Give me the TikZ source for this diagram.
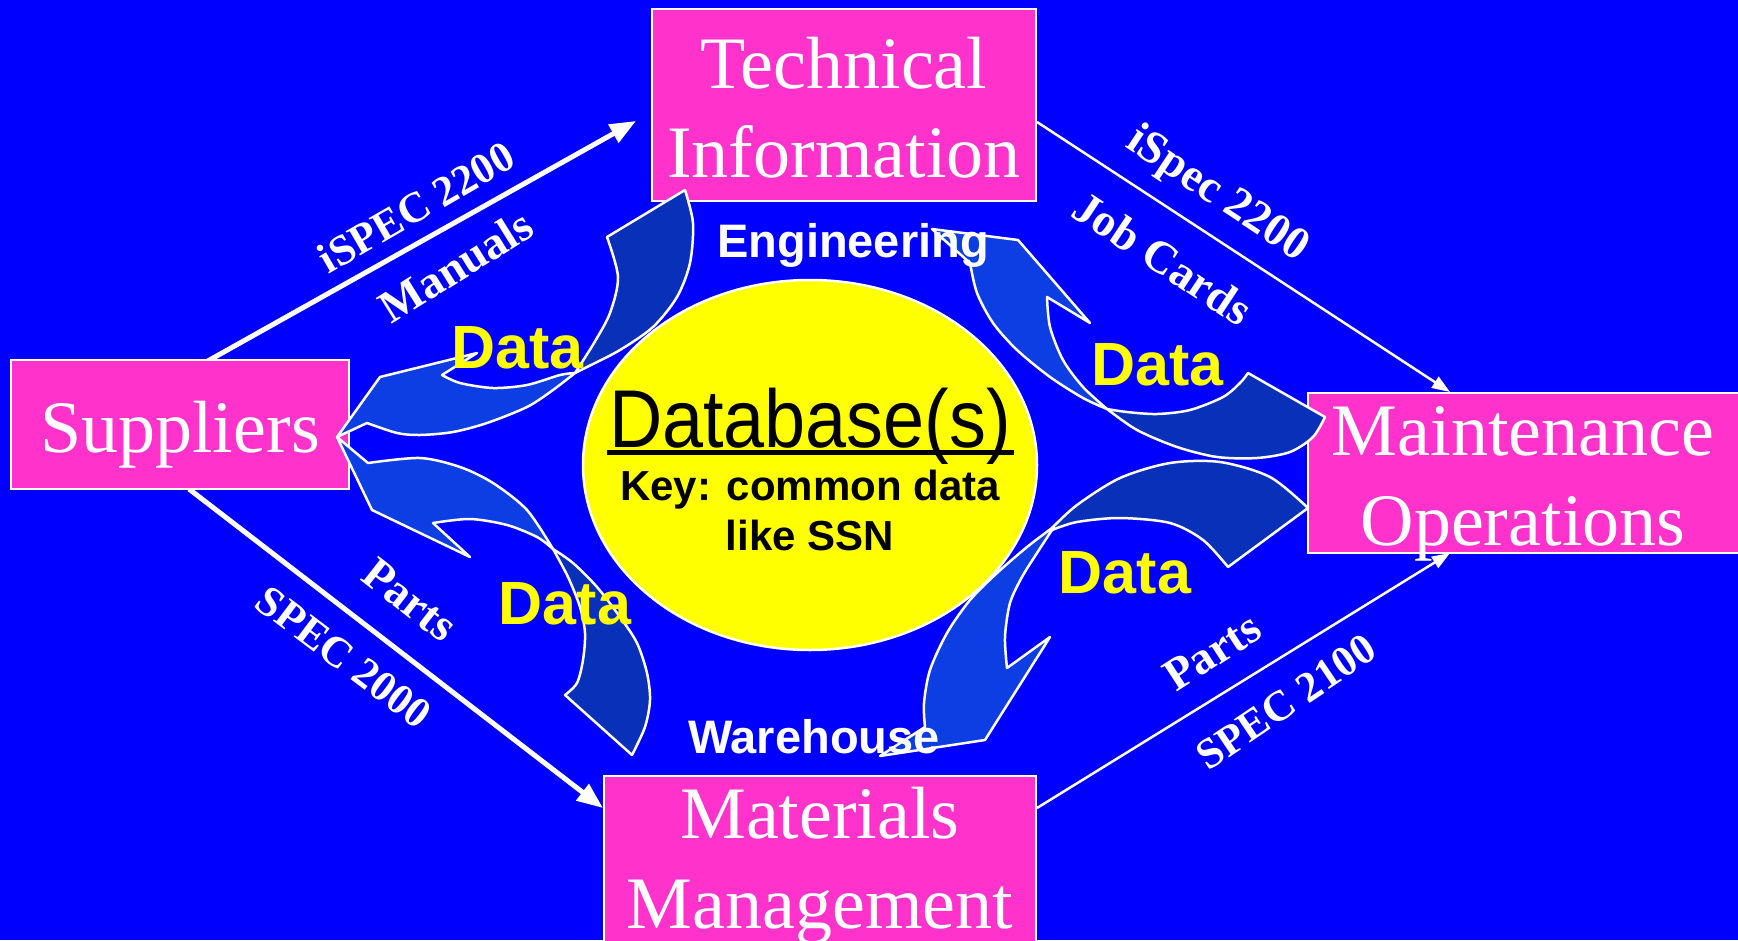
\documentclass[tikz,border=0pt]{standalone}
\usepackage{fontspec}
\setmainfont{Liberation Serif}
\newfontfamily\arialf{Liberation Sans}
\usetikzlibrary{arrows.meta,shapes.geometric}
\definecolor{bgblue}{RGB}{0,0,255}
\definecolor{boxpink}{RGB}{255,51,204}
\definecolor{dbyellow}{RGB}{255,255,0}
\definecolor{arrlight}{RGB}{12,62,228}
\definecolor{arrdark}{RGB}{8,48,184}
\begin{document}
\begin{tikzpicture}[x=1pt,y=-1pt,
  box/.style={draw=white, line width=2.5pt, fill=boxpink, inner sep=0pt, rectangle},
  boxtext/.style={text=white, font=\fontsize{74}{74}\selectfont, anchor=base, inner sep=0pt},
  speclab/.style={text=white, inner sep=0pt, font=\fontsize{46}{46}\selectfont\bfseries},
  speclabsm/.style={text=white, inner sep=0pt, font=\fontsize{43}{43}\selectfont\bfseries},
  flowthick/.style={draw=white, line width=5pt, -{Triangle[length=26pt,width=20pt]}},
  flowthin/.style={draw=white, line width=2.5pt, -{Triangle[length=18pt,width=13pt]}},
  lightpart/.style={fill=arrlight, draw=white, line width=2.5pt, line join=round},
  darkpart/.style={fill=arrdark, draw=white, line width=2.5pt, line join=round},
  datalab/.style={text=dbyellow, font=\arialf\bfseries\fontsize{61}{61}\selectfont, anchor=base, inner sep=0pt},
  arealab/.style={text=white, font=\arialf\bfseries\fontsize{47}{47}\selectfont, anchor=base, inner sep=0pt},
  dbtext/.style={text=black, font=\arialf\bfseries\fontsize{42}{42}\selectfont, anchor=base, inner sep=0pt},
]
\useasboundingbox (0,0) rectangle (1738,940);
\fill[bgblue] (0,0) rectangle (1738,940);

% straight flows
\coordinate (l1s) at (206,362);  \coordinate (l1e) at (636,121);
\coordinate (l2s) at (1037,122); \coordinate (l2e) at (1450,392);
\coordinate (l3s) at (189,489);  \coordinate (l3e) at (603,808);
\coordinate (l4s) at (1037,808); \coordinate (l4e) at (1450,553);
\draw[flowthick] (l1s) -- (l1e);
\draw[flowthin] (l2s) -- (l2e);
\draw[flowthick] (l3s) -- (l3e);
\draw[flowthin] (l4s) -- (l4e);

% boxes
\node[box, minimum width=384pt, minimum height=192pt] (tech) at (844,105) {};
\node[box, minimum width=338pt, minimum height=129pt] (sup) at (180,424.5) {};
\node[box, minimum width=437pt, minimum height=160pt] (maint) at (1526.5,473) {};
\node[box, minimum width=432pt, minimum height=172pt] (mat) at (820,862) {};

\node[boxtext] (techa) at (844,88) {Technical};
\node[boxtext] (techb) at (844,177) {Information};
\node[boxtext] (supt) at (180,452) {Suppliers};
\node[boxtext] (mainta) at (1523,455) {Maintenance};
\node[boxtext] (maintb) at (1523,545) {Operations};
\node[boxtext] (mata) at (820,838) {Materials};
\node[boxtext] (matb) at (820,928) {Management};

% database ellipse
\node[ellipse, draw=white, line width=2.5pt, fill=dbyellow, minimum width=454pt, minimum height=370pt, inner sep=0pt] (db) at (810,465) {};
\node[anchor=base, inner sep=0pt, text=black] (dbt) at (810,447) {\scalebox{0.9}[1]{\arialf\fontsize{82}{82}\selectfont Database(s)}};
\fill[black] (607,450) rectangle (1014,455);
\node[dbtext] (key1) at (810,500) {Key: common data};
\node[dbtext] (key2) at (810,550) {like SSN};

% curved data arrows
% 1: Technical -> Suppliers
\path[darkpart] (685,190) -- (607,237) -- plot[smooth] coordinates {(607,237) (618,277) (610,313) (594,343) (575,373)} -- plot[smooth] coordinates {(575,373) (587,367) (620,350) (653,327) (677,297) (690,263) (693,223) (685,190)} -- cycle;
\path[lightpart] (575,373) -- plot[smooth] coordinates {(575,373) (553,390) (527,407) (487,423) (453,432) (420,435) (397,433) (367,423)} -- (337,437) -- (380,377) -- (477,353) -- (442,375) -- plot[smooth] coordinates {(442,375) (460,383) (493,388) (527,385) (560,375) (575,373)} -- cycle;
% 2: Maintenance -> Engineering
\path[darkpart] (1107,409) -- plot[smooth] coordinates {(1107,409) (1127,412) (1157,414) (1190,410) (1223,397) (1240,383) (1248,373)} -- (1325,417) -- plot[smooth] coordinates {(1325,417) (1313,437) (1290,452) (1257,458) (1217,457) (1177,447) (1137,430) (1107,409)} -- cycle;
\path[lightpart] (932,229) -- (1018,240) -- (1090,323) -- (1047,297) -- plot[smooth] coordinates {(1047,297) (1050,327) (1063,360) (1083,387) (1107,409)} -- plot[smooth] coordinates {(1107,409) (1083,398) (1050,377) (1017,350) (993,323) (977,293) (970,263)} -- cycle;
% 3: Warehouse -> Suppliers
\path[darkpart] (553,549) -- plot[smooth] coordinates {(553,549) (568,577) (580,607) (585,633) (583,660) (577,683) (565,695)} -- (632,755) -- plot[smooth] coordinates {(632,755) (645,727) (650,700) (647,673) (637,643) (620,617) (597,587) (573,563) (553,549)} -- cycle;
\path[lightpart] (368,463) -- (337,437) -- (372,510) -- (470,557) -- (433,523) -- plot[smooth] coordinates {(433,523) (470,519) (507,525) (537,537) (553,549)} -- plot[smooth] coordinates {(553,549) (527,510) (493,483) (460,467) (420,458) (368,463)} -- cycle;
% 4: Maintenance -> Warehouse
\path[darkpart] (1052,528) -- plot[smooth] coordinates {(1052,528) (1077,505) (1120,478) (1170,463) (1220,462) (1270,477) (1308,508)} -- (1228,567) -- plot[smooth] coordinates {(1228,567) (1203,540) (1170,523) (1120,518) (1077,522) (1052,530)} -- cycle;
\path[lightpart] (1052,528) -- plot[smooth] coordinates {(1052,528) (1027,547) (997,573) (970,600) (947,633) (930,670) (924,703) (925,727)} -- (880,756) -- (985,740) -- (1050,637) -- (1007,668) -- plot[smooth] coordinates {(1007,668) (1005,637) (1010,603) (1022,577) (1037,553) (1052,530)} -- cycle;

% labels
\node[arealab] (eng) at (853,257) {Engineering};
\node[arealab] (ware) at (814,753) {Warehouse};
\node[datalab] (d1) at (517.5,368) {Data};
\node[datalab] (d2) at (1157.5,385) {Data};
\node[datalab] (d3) at (565,624) {Data};
\node[datalab] (d4) at (1125,593) {Data};

\node[speclabsm, rotate=30] (s1) at (416,207) {iSPEC 2200};
\node[speclab, rotate=32] (s2) at (456,266) {Manuals};
\node[speclab, rotate=-33.5] (s3) at (1217,195) {iSpec 2200};
\node[speclab, rotate=-33.5] (s4) at (1163,258) {Job Cards};
\node[speclab, rotate=-38] (s5) at (410,600) {Parts};
\node[speclabsm, rotate=-37] (s6) at (344,657) {SPEC 2000};
\node[speclab, rotate=33] (s7) at (1212,652) {Parts};
\node[speclabsm, rotate=34] (s8) at (1286,702) {SPEC 2100};
\end{tikzpicture}
\end{document}
